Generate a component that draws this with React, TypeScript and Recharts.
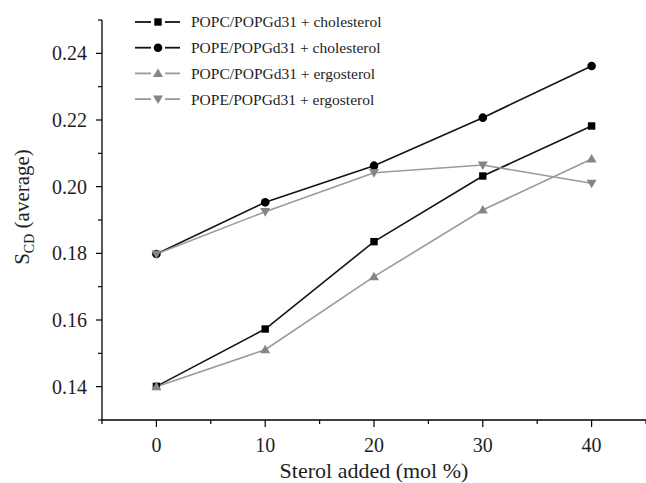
import React from 'react';
import { LineChart, Line, XAxis, YAxis, Legend } from 'recharts';

const FONT = '"Liberation Serif", "Times New Roman", serif';

const sterolAdded = [0, 10, 20, 30, 40];
const popcCholesterol = [0.1401, 0.1573, 0.1835, 0.2032, 0.2182];
const popeCholesterol = [0.1798, 0.1953, 0.2063, 0.2207, 0.2362];
const popcErgosterol = [0.1400, 0.1511, 0.1730, 0.1930, 0.2083];
const popeErgosterol = [0.1798, 0.1925, 0.2042, 0.2065, 0.2010];

const seriesNames = [
  'POPC/POPGd31 + cholesterol',
  'POPE/POPGd31 + cholesterol',
  'POPC/POPGd31 + ergosterol',
  'POPE/POPGd31 + ergosterol',
];

const xTicks = [-5, 0, 5, 10, 15, 20, 25, 30, 35, 40, 45];
const yTicks = [0.13, 0.14, 0.15, 0.16, 0.17, 0.18, 0.19, 0.2, 0.21, 0.22, 0.23, 0.24, 0.25];

const data = sterolAdded.map((x, i) => ({
  x,
  s0: popcCholesterol[i],
  s1: popeCholesterol[i],
  s2: popcErgosterol[i],
  s3: popeErgosterol[i],
}));

type Kind = 'square' | 'circle' | 'up' | 'down';

const series: { key: string; kind: Kind; stroke: string; fill: string }[] = [
  { key: 's0', kind: 'square', stroke: '#141414', fill: '#000' },
  { key: 's1', kind: 'circle', stroke: '#141414', fill: '#000' },
  { key: 's2', kind: 'up', stroke: '#9a9a9a', fill: '#858585' },
  { key: 's3', kind: 'down', stroke: '#9a9a9a', fill: '#858585' },
];

const Marker = ({ kind, cx, cy, fill }: { kind: Kind; cx: number; cy: number; fill: string }) => {
  if (cx == null || cy == null || isNaN(cx) || isNaN(cy)) return null;
  if (kind === 'square') {
    return <rect x={cx - 3.7} y={cy - 3.7} width={7.4} height={7.4} fill={fill} />;
  }
  if (kind === 'circle') {
    return <circle cx={cx} cy={cy} r={4.3} fill={fill} />;
  }
  if (kind === 'up') {
    return <polygon points={`${cx - 5},${cy + 3.6} ${cx + 5},${cy + 3.6} ${cx},${cy - 5}`} fill={fill} />;
  }
  return <polygon points={`${cx - 5},${cy - 3.6} ${cx + 5},${cy - 3.6} ${cx},${cy + 5}`} fill={fill} />;
};

const YTick = (props: any) => {
  const { x, y, payload } = props;
  const v = payload.value as number;
  const major = Math.round(v * 100) % 2 === 0;
  return (
    <g>
      <line x1={x - (major ? 6 : 4)} x2={x} y1={y} y2={y} stroke="#000" strokeWidth={1.2} />
      {major && (
        <text x={x - 15} y={y} dy="0.35em" textAnchor="end" fontSize={20} fontFamily={FONT} fill="#1e1e1e">
          {v.toFixed(2)}
        </text>
      )}
    </g>
  );
};

const XTick = (props: any) => {
  const { x, y, payload } = props;
  const v = payload.value as number;
  const major = v % 10 === 0 && v >= 0 && v <= 40;
  return (
    <g>
      <line x1={x} x2={x} y1={y} y2={y + (major ? 7 : 4)} stroke="#000" strokeWidth={1.2} />
      {major && (
        <text x={x} y={y + 32} textAnchor="middle" fontSize={20} fontFamily={FONT} fill="#1e1e1e">
          {String(v)}
        </text>
      )}
    </g>
  );
};

const XLabel = (props: any) => {
  const vb = props.viewBox || {};
  return (
    <text x={vb.x + vb.width / 2} y={vb.y + 58} textAnchor="middle" fontSize={22} fontFamily={FONT} fill="#1e1e1e">
      Sterol added (mol %)
    </text>
  );
};

const YLabel = (props: any) => {
  const vb = props.viewBox || {};
  const cx = 29;
  const cy = vb.y + vb.height / 2 - 13;
  return (
    <text
      x={cx}
      y={cy}
      textAnchor="middle"
      fontSize={21}
      fontFamily={FONT}
      fill="#1e1e1e"
      transform={`rotate(-90, ${cx}, ${cy})`}
    >
      <tspan>S</tspan>
      <tspan fontSize={14} dy={5}>CD</tspan>
      <tspan dy={-5}> (average)</tspan>
    </text>
  );
};

const LegendContent = () => (
  <svg width={340} height={112} style={{ display: 'block' }}>
    {series.map((s, i) => {
      const cy = 13 + i * 25.7;
      return (
        <g key={s.key}>
          <line x1={5} x2={21} y1={cy} y2={cy} stroke={s.stroke} strokeWidth={1.8} />
          <line x1={35} x2={50} y1={cy} y2={cy} stroke={s.stroke} strokeWidth={1.8} />
          <Marker kind={s.kind} cx={28} cy={cy} fill={s.fill} />
          <text x={61} y={cy} dy="0.35em" fontSize={15.5} fontFamily={FONT} fill="#1e1e1e">
            {seriesNames[i]}
          </text>
        </g>
      );
    })}
  </svg>
);

export default function App() {
  return (
    <div style={{ position: 'absolute', left: 0, top: 0, width: 646, height: 483, background: '#fff' }}>
      <LineChart width={646} height={483} data={data} margin={{ top: 20, right: 0, bottom: 0, left: 0 }}>
        <XAxis
          dataKey="x"
          type="number"
          domain={[-5, 45]}
          ticks={xTicks}
          interval={0}
          allowDataOverflow
          height={63}
          tickSize={0}
          tickMargin={0}
          tickLine={false}
          tick={<XTick />}
          axisLine={{ stroke: '#000', strokeWidth: 1.3 }}
          label={<XLabel />}
        />
        <YAxis
          type="number"
          domain={[0.13, 0.25]}
          ticks={yTicks}
          interval={0}
          allowDataOverflow
          width={102}
          tickSize={0}
          tickMargin={0}
          tickLine={false}
          tick={<YTick />}
          axisLine={{ stroke: '#000', strokeWidth: 1.3 }}
          label={<YLabel />}
        />
        <Legend
          layout="horizontal"
          verticalAlign="middle"
          align="center"
          wrapperStyle={{ left: 130, top: 9, width: 340, height: 112 }}
          content={<LegendContent />}
        />
        {series.map((s) => (
          <Line
            key={s.key}
            dataKey={s.key}
            type="linear"
            stroke={s.stroke}
            strokeWidth={1.6}
            isAnimationActive={false}
            dot={(p: any) => <Marker key={`${s.key}-${p.index}`} kind={s.kind} cx={p.cx} cy={p.cy} fill={s.fill} />}
            activeDot={false}
          />
        ))}
      </LineChart>
    </div>
  );
}
